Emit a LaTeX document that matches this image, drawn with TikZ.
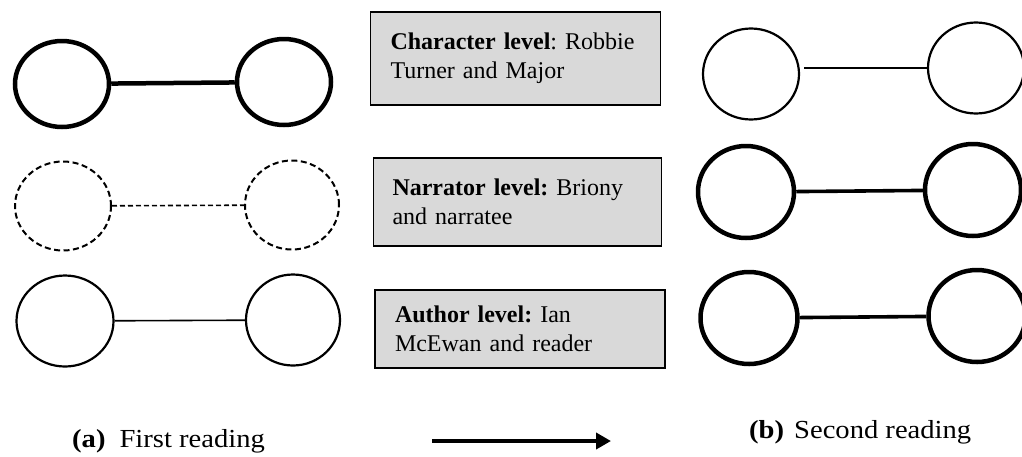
\documentclass[tikz,border=0pt]{standalone}
\usepackage{fontspec}
\setmainfont{Liberation Serif}
\newfontfamily\capfont[FakeStretch=1.1]{Liberation Serif}
\usetikzlibrary{arrows.meta,positioning,shapes.geometric}
\frenchspacing

\definecolor{boxgray}{RGB}{217,217,217}
\tikzset{
  ring/.style={ellipse, draw, inner sep=0pt, minimum width=94pt, minimum height=86pt},
  thickring/.style={ring, line width=4.5pt},
  thinring/.style={ring, line width=2.2pt},
  dashring/.style={ring, line width=2pt, dash pattern=on 6pt off 3.5pt},
  thicklink/.style={line width=4.5pt},
  midlink/.style={line width=3.6pt},
  thinlink/.style={line width=1.6pt},
  dashlink/.style={line width=1.6pt, dash pattern=on 5pt off 3pt},
  levelbox/.style={draw, line width=1.3pt, fill=boxgray, minimum width=285pt,
    text width=250pt, align=left, inner xsep=20pt, font=\fontsize{24}{29}\selectfont},
  caption/.style={font=\capfont\fontsize{26}{30}\selectfont, anchor=base west, inner sep=0pt}
}

\begin{document}
\begin{tikzpicture}[x=1pt, y=-1pt]
    \clip (0,0) rectangle (1022,456);

    % (a) first reading
    \node[thickring] (a1l) at (62,84) {};
    \node[thickring] (a1r) at (284,82) {};
    \draw[thicklink] (a1l) -- (a1r);

    \node[dashring, minimum width=96pt, minimum height=89pt] (a2l) at (63,206) {};
    \node[dashring, minimum width=94pt, minimum height=89pt] (a2r) at (292,205) {};
    \draw[dashlink] (a2l) -- (a2r);

    \node[thinring, minimum width=97pt, minimum height=91pt] (a3l) at (65,321) {};
    \node[thinring, minimum width=94pt, minimum height=91pt] (a3r) at (293,320) {};
    \draw[thinlink] (a3l) -- (a3r);

    % levels
    \node[levelbox, minimum height=93pt] (char) at (515.5,58.5)
        {\textbf{Character level}: Robbie\\Turner and Major};
    \node[levelbox, minimum height=88pt, minimum width=282pt, inner xsep=19pt] (narr) at (517.5,202)
        {\textbf{Narrator level:} Briony\\and narratee};
    \node[levelbox, minimum height=78pt, minimum width=280pt] (auth) at (520,329)
        {\textbf{Author level:} Ian\\McEwan and reader};

    % (b) second reading
    \node[thinring, minimum width=96pt, minimum height=91pt] (b1l) at (751,74) {};
    \node[thinring, minimum width=96pt, minimum height=91pt] (b1r) at (976,68) {};
    \draw[thinlink, line width=2pt, shorten <=4pt] (b1l.east |- b1r) -- (b1r);

    \node[thickring, minimum width=96pt, minimum height=92pt] (b2l) at (746,192) {};
    \node[thickring, minimum width=96pt, minimum height=92pt] (b2r) at (973,190) {};
    \draw[midlink] (b2l) -- (b2r);

    \node[thickring, minimum width=97pt, minimum height=92pt] (b3l) at (749,318) {};
    \node[thickring, minimum width=97pt, minimum height=92pt] (b3r) at (977,316) {};
    \draw[midlink] (b3l) -- (b3r);

    % captions and arrow
    \node[caption] (capa) at (72,447) {\textbf{(a)}\hspace{14pt}First reading};
    \node[caption] (capb) at (749,438) {\textbf{(b)}\hspace{10pt}Second reading};
    \coordinate (from) at (432,441);
    \coordinate (to) at (611,441);
    \draw[line width=4.5pt, -{Triangle[length=15pt, width=16pt]}] (from) -- (to);
\end{tikzpicture}
\end{document}
